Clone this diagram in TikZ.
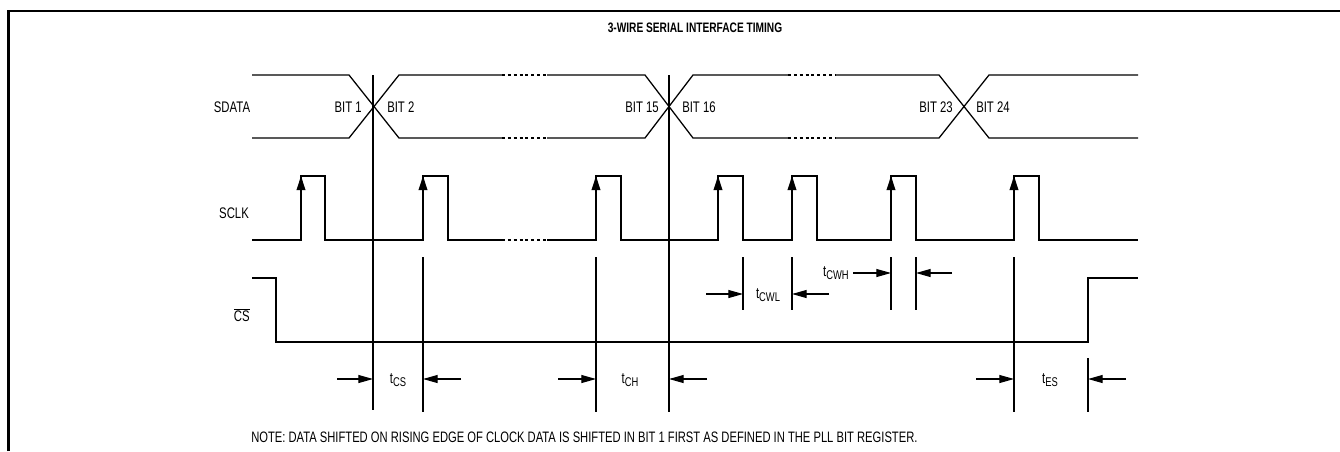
\documentclass[tikz,border=0pt]{standalone}
\usepackage{fontspec}
\setmainfont{Liberation Sans}[FakeStretch=0.74]
\usetikzlibrary{arrows.meta}
\newcommand\tsub[1]{\raisebox{-1.8pt}{\fontsize{9.5}{10}\selectfont #1}}
\begin{document}
\begin{tikzpicture}[x=0.75pt,y=-0.75pt,
  sig/.style={line width=0.95pt, line join=miter},
  vl/.style={line width=0.8pt},
  dots/.style={line width=0.95pt, dash pattern=on 2.2pt off 2.2pt},
  up/.style={line width=0.95pt,-{Triangle[length=10.5pt,width=6.5pt]}},
  dim/.style={line width=0.8pt,-{Triangle[length=11pt,width=6pt]}},
  lbl/.style={font=\fontsize{11.5}{12}\selectfont, inner sep=0pt},
  ttl/.style={font=\bfseries\fontsize{10.3}{11}\selectfont, inner sep=0pt}]
\useasboundingbox (0,0) rectangle (1340,451);
% frame
\draw[line width=1.6pt] (8.5,451) -- (8.5,11) -- (1340,11);
\node[ttl] (title) at (695,28) {3-WIRE SERIAL INTERFACE TIMING};
% signal names
\node[lbl] (sdata) at (232,107) {SDATA};
\node[lbl] (sclk) at (234,213) {SCLK};
\node[lbl,anchor=east] (cs) at (250,315) {$\overline{\mbox{CS}}$};
% SDATA
\draw[sig] (252,75) -- (349,75) -- (399,138) -- (502,138);
\draw[sig] (252,138) -- (349,138) -- (399,75) -- (502,75);
\draw[dots] (502,75) -- (547,75);
\draw[dots] (502,138) -- (547,138);
\draw[sig] (547,75) -- (645,75) -- (693,138) -- (788,138);
\draw[sig] (547,138) -- (645,138) -- (693,75) -- (788,75);
\draw[dots] (788,75) -- (836,75);
\draw[dots] (788,138) -- (836,138);
\draw[sig] (836,75) -- (939,75) -- (989,138) -- (1138,138);
\draw[sig] (836,138) -- (939,138) -- (989,75) -- (1138,75);
\node[lbl,anchor=east] (b1) at (362,107) {BIT 1};
\node[lbl,anchor=west] (b2) at (387,107) {BIT 2};
\node[lbl,anchor=east] (b15) at (659,107) {BIT 15};
\node[lbl,anchor=west] (b16) at (682,107) {BIT 16};
\node[lbl,anchor=east] (b23) at (953,107) {BIT 23};
\node[lbl,anchor=west] (b24) at (976,107) {BIT 24};
% SCLK
\draw[sig] (252,240) -- (301,240) -- (301,176) -- (325,176) -- (325,240) -- (423,240) -- (423,176) -- (448,176) -- (448,240) -- (502,240);
\draw[dots] (502,240) -- (547,240);
\draw[sig] (547,240) -- (596,240) -- (596,176) -- (621,176) -- (621,240) -- (718,240) -- (718,176) -- (743,176) -- (743,240) -- (792,240) -- (792,176) -- (817,176) -- (817,240) -- (891,240) -- (891,176) -- (916,176) -- (916,240) -- (1014,240) -- (1014,176) -- (1039,176) -- (1039,240) -- (1138,240);
\foreach \x in {301,423,596,718,792,891,1014}
  \draw[up] (\x,205) -- (\x,176);
% CS
\draw[sig] (252,278) -- (276,278) -- (276,342) -- (1088,342) -- (1088,278) -- (1138,278);
% vertical reference lines
\draw[vl] (373,75) -- (373,410);
\draw[vl] (669,75) -- (669,412);
\draw[vl] (423,257) -- (423,412);
\draw[vl] (596,257) -- (596,412);
\draw[vl] (743,257) -- (743,310);
\draw[vl] (792,257) -- (792,310);
\draw[vl] (891,257) -- (891,310);
\draw[vl] (916,257) -- (916,310);
\draw[vl] (1014,257) -- (1014,412);
\draw[vl] (1088,358) -- (1088,412);
% dimension arrows
\draw[dim] (706,294) -- (743,294);
\draw[dim] (829,294) -- (792,294);
\node[lbl] (tcwl) at (768,295) {t\tsub{CWL}};
\draw[dim] (853,273) -- (891,273);
\draw[dim] (952,273) -- (916,273);
\node[lbl,anchor=east] (tcwh) at (849,273) {t\tsub{CWH}};
\draw[dim] (337,379) -- (373,379);
\draw[dim] (461,379) -- (423,379);
\node[lbl] (tcs) at (398,380) {t\tsub{CS}};
\draw[dim] (558,379) -- (596,379);
\draw[dim] (707,379) -- (669,379);
\node[lbl] (tch) at (630,380) {t\tsub{CH}};
\draw[dim] (976,379) -- (1014,379);
\draw[dim] (1126,379) -- (1088,379);
\node[lbl] (tes) at (1050,380) {t\tsub{ES}};
% note
\node[lbl,anchor=west,font=\fontsize{11.35}{12}\selectfont] (note) at (251,437) {NOTE: DATA SHIFTED ON RISING EDGE OF CLOCK DATA IS SHIFTED IN BIT 1 FIRST AS DEFINED IN THE PLL BIT REGISTER.};
\end{tikzpicture}
\end{document}
